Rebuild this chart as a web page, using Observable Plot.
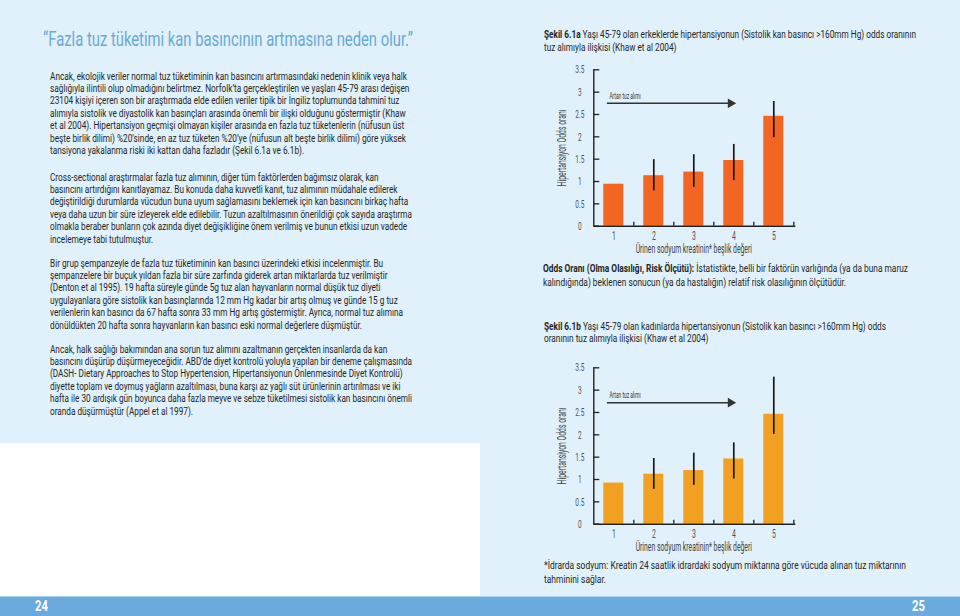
<!DOCTYPE html>
<html><head><meta charset="utf-8">
<script src="https://cdn.jsdelivr.net/npm/d3@7"></script>
<script src="https://cdn.jsdelivr.net/npm/@observablehq/plot@0.6"></script>
<style>
  html,body{margin:0;padding:0;}
  body{width:960px;height:616px;position:relative;overflow:hidden;background:#e0f1fb;
    font-family:Roboto,"Liberation Sans",sans-serif;color:#262626;}
  .blk{position:absolute;transform-origin:left top;}
  .blk div{white-space:nowrap;}
  .white{position:absolute;left:0;top:443px;width:480px;height:153px;background:#fff;}
  .bar{position:absolute;left:0;top:596px;width:960px;height:20px;background:#6aaadc;border-top:1px solid #a8d2ef;box-sizing:border-box;}
  .pn{position:absolute;top:597.5px;color:#fff;font-weight:bold;font-size:14px;line-height:16px;transform:scaleX(0.8);transform-origin:left top;}
  .chart{position:absolute;left:540px;}
</style></head>
<body>
<div class="white"></div>
<div class="bar"></div>
<div class="pn" style="left:35px">24</div>
<div class="pn" style="left:912px">25</div>

<div class="blk" data-w="370" style="left:43px;top:29px;font-size:19.5px;line-height:22px;color:#68a9d8;">
  <div><span class="ref">“Fazla tuz tüketimi kan basıncının artmasına neden olur.”</span></div>
</div>

<div class="blk" data-w="357" style="left:50px;top:69.5px;font-size:11.6px;line-height:12.45px;">
  <div><span class="ref">Ancak, ekolojik veriler normal tuz tüketiminin kan basıncını artırmasındaki nedenin klinik veya halk</span></div>
  <div>sağlığıyla ilintili olup olmadığını belirtmez. Norfolk’ta gerçekleştirilen ve yaşları 45-79 arası değişen</div>
  <div>23104 kişiyi içeren son bir araştırmada elde edilen veriler tipik bir İngiliz toplumunda tahminî tuz</div>
  <div>alımıyla sistolik ve diyastolik kan basınçları arasında önemli bir ilişki olduğunu göstermiştir (Khaw</div>
  <div>et al 2004). Hipertansiyon geçmişi olmayan kişiler arasında en fazla tuz tüketenlerin (nüfusun üst</div>
  <div>beşte birlik dilimi) %20’sinde, en az tuz tüketen %20’ye (nüfusun alt beşte birlik dilimi) göre yüksek</div>
  <div>tansiyona yakalanma riski iki kattan daha fazladır (Şekil 6.1a ve 6.1b).</div>
</div>

<div class="blk" data-w="362" style="left:50px;top:170.5px;font-size:11.6px;line-height:12.45px;">
  <div>Cross-sectional araştırmalar fazla tuz alımının, diğer tüm faktörlerden bağımsız olarak, kan</div>
  <div>basıncını artırdığını kanıtlayamaz. Bu konuda daha kuvvetli kanıt, tuz alımının müdahale edilerek</div>
  <div>değiştirildiği durumlarda vücudun buna uyum sağlamasını beklemek için kan basıncını birkaç hafta</div>
  <div><span class="ref">veya daha uzun bir süre izleyerek elde edilebilir. Tuzun azaltılmasının önerildiği çok sayıda araştırma</span></div>
  <div>olmakla beraber bunların çok azında diyet değişikliğine önem verilmiş ve bunun etkisi uzun vadede</div>
  <div>incelemeye tabi tutulmuştur.</div>
</div>

<div class="blk" data-w="353" style="left:50px;top:256.5px;font-size:11.6px;line-height:12.45px;">
  <div>Bir grup şempanzeyle de fazla tuz tüketiminin kan basıncı üzerindeki etkisi incelenmiştir. Bu</div>
  <div>şempanzelere bir buçuk yıldan fazla bir süre zarfında giderek artan miktarlarda tuz verilmiştir</div>
  <div>(Denton et al 1995). 19 hafta süreyle günde 5g tuz alan hayvanların normal düşük tuz diyeti</div>
  <div>uygulayanlara göre sistolik kan basınçlarında 12 mm Hg kadar bir artış olmuş ve günde 15 g tuz</div>
  <div><span class="ref">verilenlerin kan basıncı da 67 hafta sonra 33 mm Hg artış göstermiştir. Ayrıca, normal tuz alımına</span></div>
  <div>dönüldükten 20 hafta sonra hayvanların kan basıncı eski normal değerlere düşmüştür.</div>
</div>
<div class="blk" data-w="362" style="left:50px;top:342.5px;font-size:11.6px;line-height:12.45px;">
  <div>Ancak, halk sağlığı bakımından ana sorun tuz alımını azaltmanın gerçekten insanlarda da kan</div>
  <div>basıncını düşürüp düşürmeyeceğidir. ABD’de diyet kontrolü yoluyla yapılan bir deneme çalışmasında</div>
  <div>(DASH- Dietary Approaches to Stop Hypertension, Hipertansiyonun Önlenmesinde Diyet Kontrolü)</div>
  <div>diyette toplam ve doymuş yağların azaltılması, buna karşı az yağlı süt ürünlerinin artırılması ve iki</div>
  <div><span class="ref">hafta ile 30 ardışık gün boyunca daha fazla meyve ve sebze tüketilmesi sistolik kan basıncını önemli</span></div>
  <div>oranda düşürmüştür (Appel et al 1997).</div>
</div>

<div class="blk" data-w="372" style="left:544px;top:29.3px;font-size:11px;line-height:12.5px;">
  <div><span class="ref"><b>Şekil 6.1a</b> Yaşı 45-79 olan erkeklerde hipertansiyonun (Sistolik kan basıncı &gt;160mm Hg) odds oranının</span></div>
  <div>tuz alımıyla ilişkisi (Khaw et al 2004)</div>
</div>

<div class="blk" data-w="365" style="left:543px;top:261px;font-size:11.6px;line-height:14px;">
  <div><span class="ref"><b>Odds Oranı (Olma Olasılığı, Risk Ölçütü):</b> İstatistikte, belli bir faktörün varlığında (ya da buna maruz</span></div>
  <div>kalındığında) beklenen sonucun (ya da hastalığın) relatif risk olasılığının ölçütüdür.</div>
</div>

<div class="blk" data-w="342" style="left:544px;top:320.5px;font-size:11px;line-height:12.7px;">
  <div><span class="ref"><b>Şekil 6.1b</b> Yaşı 45-79 olan kadınlarda hipertansiyonun (Sistolik kan basıncı &gt;160mm Hg) odds</span></div>
  <div>oranının tuz alımıyla ilişkisi (Khaw et al 2004)</div>
</div>

<div class="blk" data-w="362" style="left:544px;top:559px;font-size:11.6px;line-height:13.5px;">
  <div><span class="ref">*İdrarda sodyum: Kreatin 24 saatlik idrardaki sodyum miktarına göre vücuda alınan tuz miktarının</span></div>
  <div>tahminini sağlar.</div>
</div>

<div id="chartA" class="chart" style="top:60px"></div>
<div id="chartB" class="chart" style="top:357.5px"></div>

<script>
// ---- data ----
const quintiles = [1, 2, 3, 4, 5];
const oddsMen = [0.94, 1.13, 1.21, 1.47, 2.46];
const ciLowMen = [null, 0.79, 0.87, 1.02, 1.98];
const ciHighMen = [null, 1.49, 1.60, 1.83, 2.79];
const oddsWomen = [0.92, 1.12, 1.20, 1.46, 2.46];
const ciLowWomen = [null, 0.78, 0.87, 1.01, 2.01];
const ciHighWomen = [null, 1.47, 1.59, 1.82, 3.29];
const yTicks = [0, 0.5, 1, 1.5, 2, 2.5, 3, 3.5];
const xBoundaries = [1.5, 2.5, 3.5, 4.5, 5.5];
const yLabel = "Hipertansiyon Odds oranı";
const xLabel = "Ürinen sodyum kreatinin* beşlik değeri";
const arrowLabel = "Artan tuz alımı";
const arrowStart = 0.84, arrowEnd = 3.9;
const arrowYMen = 2.75, arrowYWomen = 2.72;

const FONT = 'Roboto, sans-serif';
const NARROW = 0.57;

function chart(odds, lo, hi, color, arrowY) {
  const rows = quintiles.map((q, i) => ({q, v: odds[i], lo: lo[i], hi: hi[i]}));
  const ci = rows.filter(d => d.lo != null);
  const svg = Plot.plot({
    width: 260, height: 200,
    marginLeft: 53.3, marginRight: 6.7, marginTop: 9.3, marginBottom: 34.3,
    style: {fontFamily: FONT, fontSize: "10px", color: "#444", background: "transparent", overflow: "visible"},
    x: {domain: [0.5, 5.5], axis: null},
    y: {domain: [0, 3.5], axis: null},
    marks: [
      Plot.rectY(rows, {x1: d => d.q - 0.25, x2: d => d.q + 0.25, y: "v", fill: color}),
      Plot.ruleX(ci, {x: "q", y1: "lo", y2: "hi", stroke: "#1a1a1a", strokeWidth: 1.7}),
      Plot.ruleX([0.5], {y1: 0, y2: 3.5, stroke: "#222", strokeWidth: 1.4}),
      Plot.ruleY([0], {x1: 0.5, x2: 5.55, stroke: "#222", strokeWidth: 1.4}),
      Plot.ruleY(yTicks, {x1: 0.5, x2: 0.65, stroke: "#222", strokeWidth: 1.3}),
      Plot.ruleX(xBoundaries, {y1: 0, y2: 0.09, stroke: "#222", strokeWidth: 1.3}),
      Plot.axisY(yTicks, {tickSize: 0, tickPadding: 14, textAnchor: "middle", fontSize: 11.5, fill: "#555", label: null, tickFormat: d => String(d)}),
      Plot.axisX(quintiles, {tickSize: 0, tickPadding: 5, fontSize: 12, fill: "#555", label: null, tickFormat: d => String(d)}),
      Plot.text([yLabel], {frameAnchor: "left", textAnchor: "middle", lineAnchor: "middle", rotate: -90, dx: -31.6, fontSize: 12, fill: "#444"}),
      Plot.text([xLabel], {frameAnchor: "bottom", textAnchor: "middle", lineAnchor: "middle", dy: 22.8, fontSize: 12, fill: "#444"}),
      Plot.ruleY([arrowY], {x1: arrowStart, x2: arrowEnd, stroke: "#333", strokeWidth: 1.5}),
      Plot.dot([arrowY], {x: arrowEnd + 0.02, y: d => d, symbol: "triangle", rotate: 90, r: 3.6, fill: "#333", stroke: "none"}),
      Plot.text([arrowLabel], {x: arrowStart + 0.05, y: arrowY + 0.16, textAnchor: "start", lineAnchor: "middle", fontSize: 8.5, fill: "#333"})
    ]
  });
  // condense the chart lettering like the printed condensed typeface
  svg.querySelectorAll("text").forEach(t => {
    const tr = t.getAttribute("transform") || "";
    t.setAttribute("transform", (tr + ` scale(${NARROW},1)`).trim());
  });
  return svg;
}

document.getElementById("chartA").append(chart(oddsMen, ciLowMen, ciHighMen, "#f26522", arrowYMen));
document.getElementById("chartB").append(chart(oddsWomen, ciLowWomen, ciHighWomen, "#f1a022", arrowYWomen));

// fit condensed text blocks to the measured line widths
document.querySelectorAll(".blk").forEach(b => {
  const ref = b.querySelector(".ref");
  if (!ref) return;
  const w = ref.getBoundingClientRect().width;
  const target = +b.dataset.w;
  if (w > 0) b.style.transform = `scaleX(${target / w})`;
});
</script>
</body></html>
